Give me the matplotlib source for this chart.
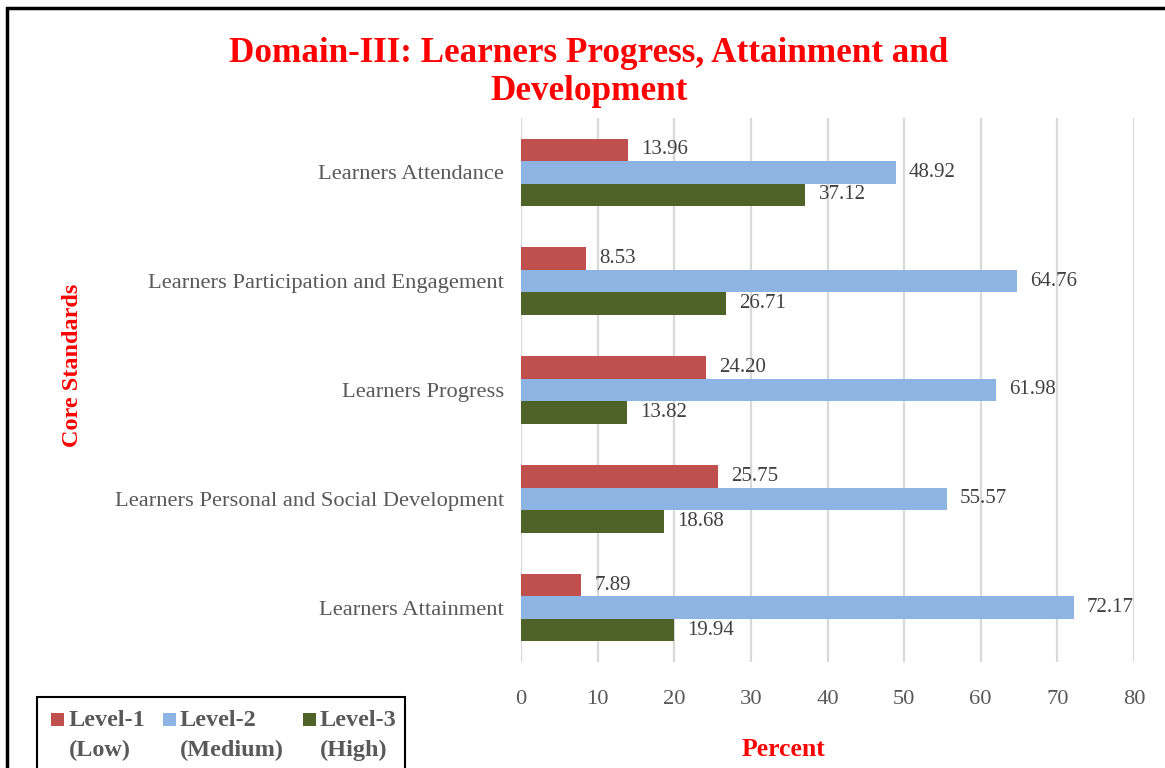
import matplotlib
matplotlib.use("Agg")
import matplotlib.pyplot as plt
from matplotlib.patches import Rectangle
import numpy as np

# data
categories = ["Learners Attendance",
              "Learners Participation and Engagement",
              "Learners Progress",
              "Learners Personal and Social Development",
              "Learners Attainment"]
level1 = [13.96, 8.53, 24.20, 25.75, 7.89]
level2 = [48.92, 64.76, 61.98, 55.57, 72.17]
level3 = [37.12, 26.71, 13.82, 18.68, 19.94]
series_names = ["Level-1\n(Low)", "Level-2\n(Medium)", "Level-3\n(High)"]
xticks = [0, 10, 20, 30, 40, 50, 60, 70, 80]

colors = ["#C0504D", "#8EB4E3", "#4F6228"]
plt.rcParams['font.family'] = ['Liberation Serif', 'DejaVu Serif']

W, H = 1165, 768
fig = plt.figure(figsize=(W / 100, H / 100), dpi=100)
ax = fig.add_axes([521/W, 1 - 662/H, (1134 - 521)/W, (662 - 118)/H])

y = np.arange(len(categories))
h = 0.207
for i, (vals, col) in enumerate(zip([level1, level2, level3], colors)):
    pos = y + (i - 1) * h
    ax.barh(pos, vals, height=h, color=col, zorder=3)
    for p, v in zip(pos, vals):
        ax.text(v + 1.7, p, "%.2f" % v, va="center", ha="left",
                fontsize=15, color="#404040")

ax.set_ylim(len(categories) - 0.5, -0.5)
ax.set_xlim(0, 80)
ax.set_xticks(xticks)
ax.set_yticks(y)
ax.set_yticklabels(categories)
ax.tick_params(axis="both", length=0, labelsize=16.2, labelcolor="#595959")
ax.tick_params(axis="x", pad=20)
ax.tick_params(axis="y", pad=12)
ax.grid(axis="x", color="#D9D9D9", linewidth=1.6, zorder=0)
for s in ax.spines.values():
    s.set_visible(False)

fig.text(589/W, 1 - 72/H, "Domain-III: Learners Progress, Attainment and\nDevelopment",
         ha="center", va="center", fontsize=25.3, fontweight="bold", color="red",
         linespacing=1.2)
fig.text(73/W, 1 - 365/H, "Core Standards", rotation=90, ha="center", va="center",
         fontsize=17.5, fontweight="bold", color="red")
fig.text(783/W, 1 - 750/H, "Percent", ha="center", va="center",
         fontsize=18.5, fontweight="bold", color="red")

# outer border (cut off at right/bottom)
fig.patches.append(Rectangle((7/W, -0.1), 1.2, 1 - 8/H + 0.1,
                             transform=fig.transFigure, fill=False,
                             edgecolor="black", linewidth=2.5, clip_on=False))

# legend box drawn by hand so the swatches sit on the first text line
fig.patches.append(Rectangle((37/W, -0.1), (405 - 37)/W, 0.1 + 1 - 697/H,
                             transform=fig.transFigure, fill=False,
                             edgecolor="black", linewidth=1.5, clip_on=False))
swatch_x = [51, 163, 303]
text_x = [69, 180, 320]
for sx, tx, c, name in zip(swatch_x, text_x, colors, series_names):
    fig.patches.append(Rectangle((sx/W, 1 - 726/H), 13/W, 13/H,
                                 transform=fig.transFigure, facecolor=c,
                                 edgecolor="none"))
    fig.text(tx/W, 1 - 710/H, name, ha="left", va="top", fontsize=17.5,
             fontweight="bold", color="#595959", linespacing=1.55)

fig.savefig("out.png", dpi=100)
